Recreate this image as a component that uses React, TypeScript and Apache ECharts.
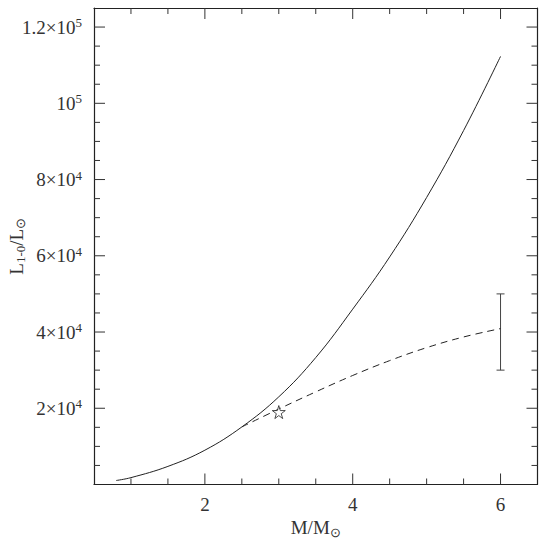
import React, { useEffect, useRef } from 'react';
import * as echarts from 'echarts';

// Solid curve (M/Msun, L/Lsun)
const massSolid = [0.8, 1.0, 1.5, 2.0, 2.5, 3.0, 3.5, 4.0, 4.5, 5.0, 5.5, 6.0];
const lumSolid = [1050, 1800, 4750, 9000, 15100, 23000, 33300, 46000, 59700, 75300, 92850, 112300];

// Dashed curve
const massDashed = [2.5, 3.0, 3.5, 4.0, 4.5, 5.0, 5.5, 6.0];
const lumDashed = [15100, 19800, 24300, 28600, 32500, 35900, 38700, 40900];

// Star marker
const starPoint = [3.0, 19000];

// Error bar: mass, low, high
const errorBar = [6.0, 30000, 50000];

// Axes
const xMajorTicks = [2, 4, 6];
const xMinorTicks = [1, 1.5, 2.5, 3, 3.5, 4.5, 5, 5.5];
const yMajorTicks = [20000, 40000, 60000, 80000, 100000, 120000];
const yMinorTicks = [5000, 10000, 15000, 25000, 30000, 35000, 45000, 50000, 55000, 65000, 70000, 75000, 85000, 90000, 95000, 105000, 110000, 115000];
const yTickMantissa = ['2×10', '4×10', '6×10', '8×10', '10', '1.2×10'];
const yTickExponent = ['4', '4', '4', '4', '5', '5'];

const FONT = 'Liberation Serif';
const TXT = '#333';
const LINE = '#222';
const X_MIN = 0.5;
const X_MAX = 6.5;
const Y_MIN = 0;
const Y_MAX = 125000;
const GRID_W = 443.5;
const GRID_H = 476.5;
const MAJOR_PX = 11;
const MINOR_PX = 6;

export default function App() {
  const ref = useRef<HTMLDivElement>(null);
  useEffect(() => {
    document.body.style.margin = '0';
    if (!ref.current) return;
    const chart = echarts.init(ref.current, null, { renderer: 'svg' });

    const solid = massSolid.map((m, i) => [m, lumSolid[i]]);
    const dashed = massDashed.map((m, i) => [m, lumDashed[i]]);

    // tick lengths converted from pixels to data units
    const yPerPx = (Y_MAX - Y_MIN) / GRID_H;
    const xPerPx = (X_MAX - X_MIN) / GRID_W;

    const tickSeries: any[] = [];
    const tickLine = (data: number[][]) => ({
      type: 'line',
      xAxisIndex: 0,
      yAxisIndex: 0,
      data,
      showSymbol: false,
      silent: true,
      lineStyle: { color: '#333', width: 1 },
      z: 1,
    });
    const addX = (v: number, px: number) => {
      tickSeries.push(tickLine([[v, Y_MIN], [v, Y_MIN + px * yPerPx]]));
      tickSeries.push(tickLine([[v, Y_MAX], [v, Y_MAX - px * yPerPx]]));
    };
    const addY = (v: number, px: number) => {
      tickSeries.push(tickLine([[X_MIN, v], [X_MIN + px * xPerPx, v]]));
      tickSeries.push(tickLine([[X_MAX, v], [X_MAX - px * xPerPx, v]]));
    };
    xMajorTicks.forEach((v) => addX(v, MAJOR_PX));
    xMinorTicks.forEach((v) => addX(v, MINOR_PX));
    yMajorTicks.forEach((v) => addY(v, MAJOR_PX));
    yMinorTicks.forEach((v) => addY(v, MINOR_PX));

    const labelRich = {
      n: { fontFamily: FONT, fontSize: 19, color: TXT, lineHeight: 22, verticalAlign: 'middle' },
      s: { fontFamily: FONT, fontSize: 13, color: TXT, lineHeight: 13, verticalAlign: 'top' },
    };
    const nameRich = {
      a: { fontFamily: FONT, fontSize: 19, color: TXT, lineHeight: 22, verticalAlign: 'middle' },
      b: { fontFamily: FONT, fontSize: 13, color: TXT, lineHeight: 13, verticalAlign: 'bottom' },
    };

    const frameLine = { show: true, onZero: false, lineStyle: { color: LINE, width: 1.2 } };

    chart.setOption({
      animation: false,
      grid: { left: 94, top: 8, width: GRID_W, height: GRID_H, outerBoundsMode: 'none', containLabel: false },
      xAxis: [
        {
          type: 'value',
          min: X_MIN,
          max: X_MAX,
          position: 'bottom',
          splitLine: { show: false },
          axisLine: frameLine,
          axisTick: { show: false },
          axisLabel: {
            show: true,
            customValues: xMajorTicks,
            margin: 10,
            fontFamily: FONT,
            fontSize: 19,
            color: TXT,
            formatter: (v: number) => String(v),
          },
          name: '{a|M/M}{b|⊙}',
          nameLocation: 'middle',
          nameGap: 32,
          nameMoveOverlap: false,
          nameTextStyle: { rich: nameRich },
        },
        {
          type: 'value',
          min: X_MIN,
          max: X_MAX,
          position: 'top',
          splitLine: { show: false },
          axisLine: frameLine,
          axisTick: { show: false },
          axisLabel: { show: false },
        },
      ],
      yAxis: [
        {
          type: 'value',
          min: Y_MIN,
          max: Y_MAX,
          interval: 20000,
          position: 'left',
          splitLine: { show: false },
          axisLine: frameLine,
          axisTick: { show: false },
          axisLabel: {
            show: true,
            margin: 12,
            formatter: (v: number) => {
              const i = yMajorTicks.indexOf(v);
              if (i < 0) return '';
              return '{n|' + yTickMantissa[i] + '}{s|' + yTickExponent[i] + '}';
            },
            rich: labelRich,
          },
          name: '{a|L}{b|1-0}{a|/L}{b|⊙}',
          nameLocation: 'middle',
          nameGap: 67,
          nameRotate: 90,
          nameMoveOverlap: false,
          nameTextStyle: { rich: nameRich },
        },
        {
          type: 'value',
          min: Y_MIN,
          max: Y_MAX,
          interval: 20000,
          position: 'right',
          splitLine: { show: false },
          axisLine: frameLine,
          axisTick: { show: false },
          axisLabel: { show: false },
        },
      ],
      series: [
        ...tickSeries,
        {
          type: 'line',
          xAxisIndex: 0,
          yAxisIndex: 0,
          data: solid,
          smooth: 0.4,
          showSymbol: false,
          lineStyle: { color: LINE, width: 1 },
        },
        {
          type: 'line',
          xAxisIndex: 0,
          yAxisIndex: 0,
          data: dashed,
          smooth: 0.4,
          showSymbol: false,
          lineStyle: { color: LINE, width: 1, type: [7, 5] },
        },
        {
          type: 'scatter',
          xAxisIndex: 0,
          yAxisIndex: 0,
          data: [starPoint],
          symbol: 'path://M50,0 L61,35 L98,35 L68,57 L79,91 L50,70 L21,91 L32,57 L2,35 L39,35 Z',
          symbolSize: 13,
          itemStyle: { color: '#fff', borderColor: LINE, borderWidth: 1 },
          z: 5,
        },
        {
          type: 'custom',
          xAxisIndex: 0,
          yAxisIndex: 0,
          data: [errorBar],
          encode: { x: 0, y: [1, 2] },
          renderItem: (params: any, api: any) => {
            const x = api.value(0);
            const lo = api.coord([x, api.value(1)]);
            const hi = api.coord([x, api.value(2)]);
            const w = 4;
            const st = { stroke: '#444', lineWidth: 1 };
            return {
              type: 'group',
              children: [
                { type: 'line', shape: { x1: lo[0], y1: lo[1], x2: hi[0], y2: hi[1] }, style: st },
                { type: 'line', shape: { x1: lo[0] - w, y1: lo[1], x2: lo[0] + w, y2: lo[1] }, style: { ...st } },
                { type: 'line', shape: { x1: hi[0] - w, y1: hi[1], x2: hi[0] + w, y2: hi[1] }, style: { ...st } },
              ],
            };
          },
        },
      ],
    });
    return () => chart.dispose();
  }, []);
  return <div ref={ref} style={{ width: 560, height: 544 }} />;
}
